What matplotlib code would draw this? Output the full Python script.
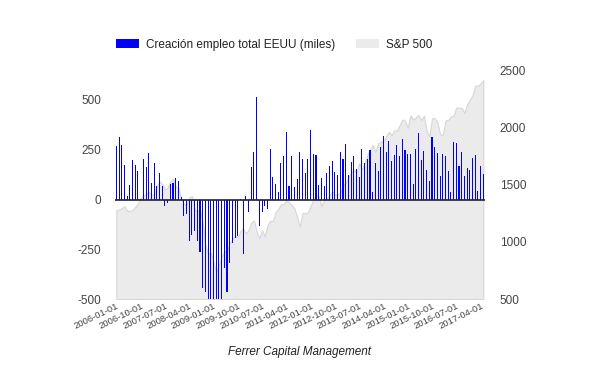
import matplotlib
matplotlib.use("Agg")
import matplotlib.pyplot as plt
import matplotlib.transforms as mtransforms
from matplotlib.patches import Patch
import numpy as np
import pandas as pd

plt.rcParams['font.family'] = ['Liberation Sans', 'DejaVu Sans']
plt.rcParams['axes.unicode_minus'] = False

# Monthly data, 2006-01 .. 2017-05
months = pd.date_range("2006-01-01", "2017-05-01", freq="MS")

# US nonfarm payroll change (thousands)
empleo = [
    270, 312, 275, 175, 20, 75, 200, 175, 145, 5, 205, 165,           # 2006
    235, 85, 185, 70, 135, 70, -33, -20, 80, 85, 110, 95,             # 2007
    15, -83, -72, -208, -180, -158, -208, -263, -447, -467, -765, -697,  # 2008
    -791, -703, -823, -686, -345, -463, -317, -217, -192, -183, 5, -272,  # 2009
    20, -63, 162, 237, 517, -133, -63, -33, -50, 255, 115, 80,        # 2010
    40, 185, 220, 340, 70, 220, 65, 105, 240, 205, 135, 205,          # 2011
    350, 230, 225, 75, 110, 70, 135, 170, 195, 140, 125, 240,         # 2012
    205, 280, 125, 190, 220, 155, 115, 255, 185, 205, 250, 40,        # 2013
    185, 145, 265, 320, 240, 295, 195, 225, 275, 220, 305, 250,       # 2014
    230, 230, 80, 255, 335, 200, 245, 150, 95, 315, 265, 235,         # 2015
    120, 230, 220, 145, 40, 290, 285, 170, 240, 120, 160, 150,        # 2016
    210, 225, 45, 170, 130,                                           # 2017
]

# S&P 500 monthly close
sp500 = [
    1280, 1281, 1295, 1311, 1270, 1270, 1277, 1304, 1336, 1378, 1401, 1418,
    1438, 1407, 1421, 1482, 1531, 1503, 1455, 1474, 1527, 1549, 1481, 1468,
    1379, 1331, 1323, 1386, 1400, 1280, 1267, 1283, 1165, 969, 896, 903,
    826, 735, 798, 873, 919, 919, 987, 1021, 1057, 1036, 1096, 1115,
    1074, 1104, 1169, 1187, 1089, 1031, 1102, 1049, 1141, 1183, 1181, 1258,
    1286, 1327, 1326, 1364, 1345, 1321, 1292, 1219, 1131, 1253, 1247, 1258,
    1312, 1366, 1408, 1398, 1310, 1362, 1379, 1407, 1441, 1412, 1416, 1426,
    1498, 1515, 1569, 1598, 1631, 1606, 1686, 1633, 1682, 1757, 1806, 1848,
    1783, 1859, 1872, 1884, 1924, 1960, 1931, 1972, 1972, 2018, 2068, 2059,
    1995, 2105, 2068, 2086, 2107, 2063, 2104, 1972, 1920, 2079, 2080, 2044,
    1940, 1932, 2060, 2065, 2097, 2099, 2174, 2171, 2168, 2126, 2199, 2239,
    2279, 2364, 2363, 2384, 2412,
]

x = np.arange(len(months))
tick_idx = x[::9]
tick_labels = [months[i].strftime("%Y-%m-%d") for i in tick_idx]

fig = plt.figure(figsize=(6, 3.71), dpi=100)
ax = fig.add_axes([0.1917, 0.194, 0.616, 0.617])
ax2 = ax.twinx()

# S&P area behind the bars
ax2.fill_between(x, 500, sp500, facecolor="#ebebeb", edgecolor="#d6d6d6", lw=0.8)
ax2.set_ylim(500, 2500)
ax2.set_yticks([500, 1000, 1500, 2000, 2500])

ax.bar(x, empleo, width=0.4, color="#0000ff", zorder=3)
ax.axhline(0, color="#222222", lw=1.2, zorder=4)
ax.set_ylim(-500, 650)
ax.set_yticks([-500, -250, 0, 250, 500])
ax.set_xlim(-0.5, len(x) - 0.5)

ax.set_zorder(ax2.get_zorder() + 1)
ax.patch.set_visible(False)

ax.set_xticks(tick_idx)
ax.set_xticklabels(tick_labels, rotation=26, ha="right", rotation_mode="anchor",
                   fontsize=6.8, color="#444444")
shift = mtransforms.ScaledTranslation(6 / 100, 0, fig.dpi_scale_trans)
for lbl in ax.get_xticklabels():
    lbl.set_transform(lbl.get_transform() + shift)

for a in (ax, ax2):
    for s in a.spines.values():
        s.set_visible(False)
ax.tick_params(axis="y", length=0, pad=10, labelsize=8.5, labelcolor="#444444")
ax.tick_params(axis="x", length=0, pad=2)
ax2.tick_params(axis="y", length=0, pad=11, labelsize=8.5, labelcolor="#444444")

ax.set_xlabel("Ferrer Capital Management", fontstyle="italic", fontsize=8.5,
              color="#222222", labelpad=11)

handles = [Patch(facecolor="#0000ff", label="Creación empleo total EEUU (miles)"),
           Patch(facecolor="#ebebeb", label="S&P 500")]
fig.legend(handles=handles, loc="center", bbox_to_anchor=(0.457, 0.879), ncol=2,
           frameon=False, fontsize=8.5, handlelength=2.0, handleheight=0.8,
           handletextpad=0.6, columnspacing=1.7, labelcolor="#222222")

fig.savefig("out.png", dpi=100)
